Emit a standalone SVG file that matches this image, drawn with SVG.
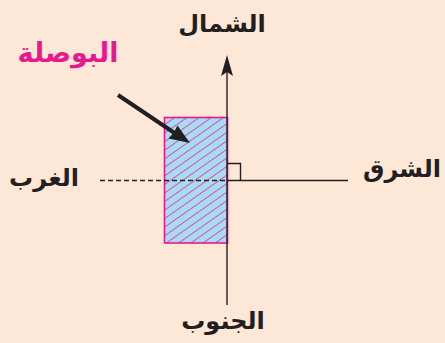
<svg xmlns="http://www.w3.org/2000/svg" width="445" height="343" viewBox="0 0 445 343">
<defs>
<pattern id="hatch" patternUnits="userSpaceOnUse" width="7" height="7" patternTransform="rotate(-35)">
<rect width="7" height="7" fill="#a9dcf2"/>
<line x1="0" y1="0" x2="7" y2="0" stroke="#e8198c" stroke-width="1.4"/>
</pattern>
<style>
.lbl{font-family:"DejaVu Sans",sans-serif;font-weight:bold;fill:#231f20;text-anchor:middle;}
.ax{stroke:#231f20;stroke-width:1.4;fill:none;}
.head{fill:#231f20;}
</style>
</defs>
<rect width="445" height="343" fill="#fde8d8"/>
<g id="compass">
<rect x="164.5" y="117.5" width="63" height="125.5" fill="url(#hatch)" stroke="#e8198c" stroke-width="1.6"/>
</g>
<g id="connectors">
<line class="ax" x1="227" y1="305" x2="227" y2="70"/>
<polygon class="head" points="227,55 233,76 227,72 221,76"/>
<line class="ax" x1="227" y1="180.5" x2="348" y2="180.5"/>
<line class="ax" x1="100" y1="180.5" x2="227" y2="180.5" stroke-dasharray="5,3" stroke-width="1.6"/>
<polyline class="ax" points="227,163.5 240.5,163.5 240.5,180.5"/>
<line x1="118" y1="95" x2="176" y2="134" stroke="#231f20" stroke-width="4"/>
<polygon class="head" points="190,143 168.5,138.5 173.5,133 177.5,125.5"/>
</g>
<g id="north"><text class="lbl" x="222" y="32" font-size="24">الشمال</text></g>
<g id="south"><text class="lbl" x="223" y="329" font-size="24">الجنوب</text></g>
<g id="east"><text class="lbl" x="402" y="177" font-size="24">الشرق</text></g>
<g id="west"><text class="lbl" x="44" y="186" font-size="24">الغرب</text></g>
<g id="label-compass"><text class="lbl" x="68" y="62" font-size="27" style="fill:#e8198c">البوصلة</text></g>
</svg>
